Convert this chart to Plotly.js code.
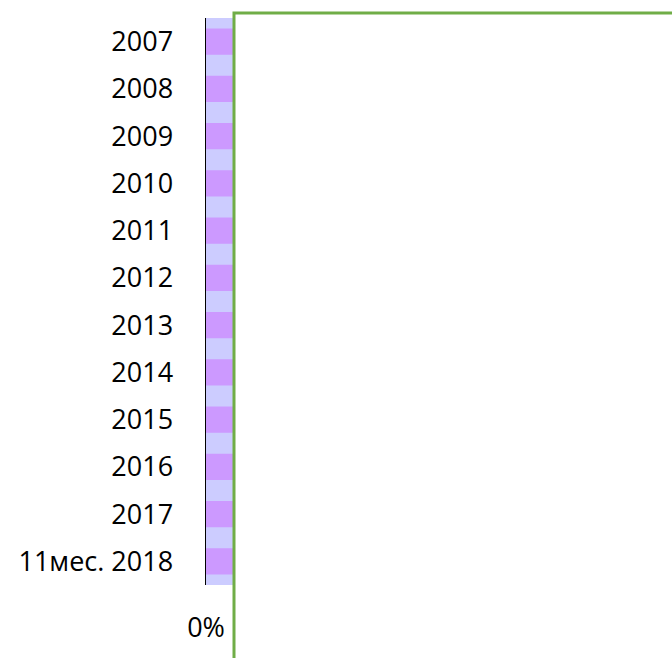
<!DOCTYPE html>
<html>
<head>
<meta charset="utf-8">
<script src="https://cdn.plot.ly/plotly-3.0.1.min.js"></script>
<style>html,body{margin:0;padding:0;background:#fff;}#chart{width:672px;height:659px;}</style>
</head>
<body>
<div id="chart"></div>
<script>
const categories = ["2007","2008","2009","2010","2011","2012","2013","2014","2015","2016","2017","11мес. 2018"];
const shares = [1,1,1,1,1,1,1,1,1,1,1,1];
const xTickVals = [0];
const xTickText = ["0%"];

const font = {family: "Open Sans, Liberation Sans, sans-serif", size: 27, color: "#000"};

const trace = {
  type: "bar",
  orientation: "h",
  y: categories,
  x: shares,
  width: 0.56,
  marker: {color: "#CC99FF", line: {width: 0}},
  hoverinfo: "skip"
};

const layout = {
  width: 672,
  height: 659,
  margin: {l: 206, r: 439, t: 18, b: 74, pad: 0},
  paper_bgcolor: "#ffffff",
  plot_bgcolor: "#CCCCFF",
  showlegend: false,
  font: font,
  xaxis: {
    range: [0, 0.05],
    tickvals: xTickVals,
    ticktext: xTickText,
    ticks: "outside",
    ticklen: 19,
    tickcolor: "rgba(0,0,0,0)",
    showgrid: false,
    zeroline: false,
    showline: false,
    tickfont: font,
    fixedrange: true
  },
  yaxis: {
    type: "category",
    range: [11.5, -0.5],
    ticks: "outside",
    ticklen: 26,
    tickcolor: "rgba(0,0,0,0)",
    showgrid: false,
    zeroline: false,
    showline: true,
    linecolor: "#000000",
    linewidth: 1.5,
    tickfont: font,
    fixedrange: true
  },
  shapes: [{
    type: "path",
    xref: "paper", yref: "paper",
    path: "M " + ((234 - 206) / 27) + " " + ((585 - 658) / 567) +
          " L " + ((234 - 206) / 27) + " " + ((585 - 13) / 567) +
          " L " + ((672 - 206) / 27) + " " + ((585 - 13) / 567),
    line: {color: "#70AD47", width: 3},
    layer: "above"
  }]
};

Plotly.newPlot("chart", [trace], layout, {displayModeBar: false, staticPlot: true});
</script>
</body>
</html>
